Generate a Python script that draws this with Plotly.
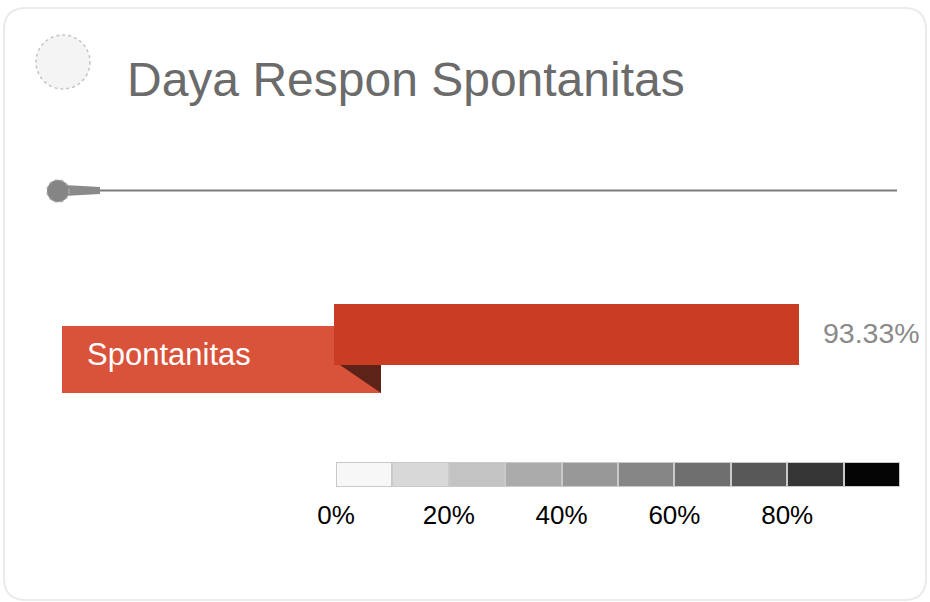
import plotly.graph_objects as go

# ---- data ----
title_text = "Daya Respon Spontanitas"
categories = ["Spontanitas"]
values = [93.33]
scale_starts = [0, 10, 20, 30, 40, 50, 60, 70, 80, 90]
scale_widths = [10, 10, 10, 10, 10, 10, 10, 10, 10, 10]
scale_colors = ["#f7f7f7", "#d8d8d8", "#c3c3c3", "#ababab", "#989898",
                "#868686", "#6f6f6f", "#585858", "#363636", "#050505"]
tick_vals = [0, 20, 40, 60, 80]
tick_text = ["0%", "20%", "40%", "60%", "80%"]

W, H = 930, 602
def px(x):
    return x / W
def py(y):
    return 1 - y / H

FONT = "Liberation Sans, Arial, sans-serif"

fig = go.Figure()

# main bar
fig.add_trace(go.Bar(
    x=values, y=[0], orientation="h", width=1,
    marker=dict(color="#c93d25", line=dict(width=0)),
    xaxis="x", yaxis="y", hoverinfo="skip", showlegend=False,
))

# scale bar
fig.add_trace(go.Bar(
    x=scale_widths, base=scale_starts, y=[0] * len(scale_starts),
    orientation="h", width=1,
    marker=dict(color=scale_colors, line=dict(color="#c9c9c9", width=2)),
    xaxis="x2", yaxis="y2", hoverinfo="skip", showlegend=False,
))

def conv_path(p):
    out = []
    for tok in p.split(" "):
        if "," in tok:
            a, b = tok.split(",")
            out.append(f"{px(float(a)):.5f},{py(float(b)):.5f}")
        else:
            out.append(tok)
    return " ".join(out)

shapes = []
# card border (rounded)
r = 22
L, T, R, B = 4, 8, 926, 600
path = (f"M {L+r},{T} L {R-r},{T} Q {R},{T} {R},{T+r} L {R},{B-r} Q {R},{B} {R-r},{B} "
        f"L {L+r},{B} Q {L},{B} {L},{B-r} L {L},{T+r} Q {L},{T} {L+r},{T} Z")
shapes.append(dict(type="path", xref="paper", yref="paper", path=conv_path(path),
                   line=dict(color="#ebebeb", width=2), fillcolor="rgba(0,0,0,0)", layer="below"))
# top-left circle
shapes.append(dict(type="circle", xref="paper", yref="paper",
                   x0=px(36), x1=px(90), y0=py(89), y1=py(35),
                   fillcolor="#f3f4f3", line=dict(color="#c4c4c4", width=1.5, dash="dot")))
# horizontal line
shapes.append(dict(type="line", xref="paper", yref="paper",
                   x0=px(90), x1=px(897), y0=py(190.5), y1=py(190.5),
                   line=dict(color="#7c7c7c", width=2)))
# connector
shapes.append(dict(type="path", xref="paper", yref="paper",
                   path=conv_path("M 64,185 L 100,187 L 100,194 L 64,196 Z"),
                   fillcolor="#8a8a8a", line=dict(width=0)))
# knob
shapes.append(dict(type="circle", xref="paper", yref="paper",
                   x0=px(47), x1=px(69), y0=py(202), y1=py(180),
                   fillcolor="#858585", line=dict(color="#a8a8a8", width=1.5, dash="dot")))
# label box
shapes.append(dict(type="rect", xref="paper", yref="paper",
                   x0=px(62), x1=px(381), y0=py(393), y1=py(326),
                   fillcolor="#d9523a", line=dict(width=0), layer="below"))
# fold triangle
shapes.append(dict(type="path", xref="paper", yref="paper",
                   path=conv_path("M 340,365 L 381,365 L 381,393 Z"),
                   fillcolor="#5e2318", line=dict(width=0)))

annotations = [
    dict(text=title_text, xref="paper", yref="paper", x=px(125), y=py(79),
         xanchor="left", yanchor="middle", showarrow=False,
         font=dict(family=FONT, size=48, color="#6b6b6b")),
    dict(text=categories[0], xref="paper", yref="paper", x=px(85), y=py(354),
         xanchor="left", yanchor="middle", showarrow=False,
         font=dict(family=FONT, size=31, color="#ffffff")),
    dict(text=f"{values[0]:.2f}%", xref="x", yref="y", x=values[0], y=0.02,
         xanchor="left", yanchor="middle", xshift=22, showarrow=False,
         font=dict(family=FONT, size=28.5, color="#8a8a8a")),
]

fig.update_layout(
    width=W, height=H, autosize=False,
    margin=dict(l=0, r=0, t=0, b=0, pad=0, autoexpand=False),
    paper_bgcolor="#ffffff", plot_bgcolor="rgba(0,0,0,0)",
    shapes=shapes, annotations=annotations, bargap=0,
    xaxis=dict(domain=[px(334), px(832.2)], range=[0, 100], visible=False,
               fixedrange=True, automargin=False),
    yaxis=dict(domain=[py(365), py(304)], range=[-0.5, 0.5], visible=False,
               fixedrange=True, automargin=False),
    xaxis2=dict(domain=[px(336), px(900)], range=[0, 100], anchor="y2",
                tickvals=tick_vals, ticktext=tick_text, ticks="outside", ticklen=5,
                tickcolor="rgba(0,0,0,0)", showgrid=False, zeroline=False, showline=False,
                tickfont=dict(family=FONT, size=26, color="#000000"),
                fixedrange=True, automargin=False),
    yaxis2=dict(domain=[py(487), py(462)], range=[-0.5, 0.5], visible=False,
                fixedrange=True, automargin=False),
)

fig.write_html("out.html", config={"displayModeBar": False},
               post_script="document.body.style.margin='0';document.body.style.overflow='hidden';")
